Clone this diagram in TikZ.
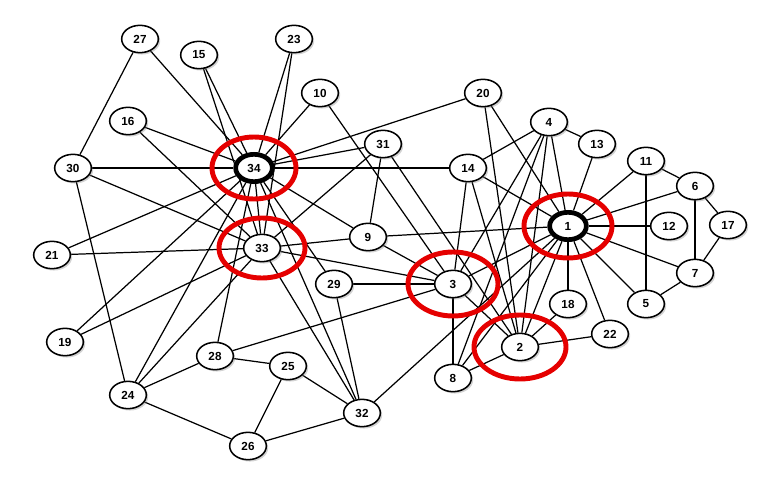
\documentclass[tikz,border=0pt]{standalone}
\usepackage{fontspec}
\setsansfont{Liberation Sans}
\usetikzlibrary{shapes.geometric,shadows,backgrounds}
\begin{document}
\begin{tikzpicture}[x=0.03cm, y=-0.03cm, font=\sffamily\bfseries\fontsize{10}{12}\selectfont]
        \tikzstyle{socio}=[ellipse, draw, line width=1.3pt, fill=white, minimum width=1.1cm, minimum height=0.82cm, inner sep=0pt,
                drop shadow={shadow xshift=1.6pt, shadow yshift=-1.6pt, opacity=0.35}]
        \tikzstyle{lider}=[socio, line width=4pt]
        \tikzstyle{lazo}=[line width=1.05pt]
        \tikzstyle{marca}=[draw=red!90!black, line width=4.2pt]

        \useasboundingbox (0,0) rectangle (781,477);

        % Miembros del club
        \node[lider] (n1) at (568,226) {1};   \node[socio] (n2) at (520,347) {2};   \node[socio] (n3) at (453,284) {3};
        \node[socio] (n4) at (549,122) {4};   \node[socio] (n5) at (646,304) {5};   \node[socio] (n6) at (695,186) {6};
        \node[socio] (n7) at (695,273) {7};   \node[socio] (n8) at (453,378) {8};   \node[socio] (n9) at (368,237) {9};
        \node[socio] (n10) at (320,93) {10};  \node[socio] (n11) at (646,161) {11}; \node[socio] (n12) at (669,226) {12};
        \node[socio] (n13) at (597,144) {13}; \node[socio] (n14) at (468,168) {14}; \node[socio] (n15) at (199,55) {15};
        \node[socio] (n16) at (128,121) {16}; \node[socio] (n17) at (728,225) {17}; \node[socio] (n18) at (568,304) {18};
        \node[socio] (n19) at (65,342) {19};  \node[socio] (n20) at (483,93) {20};  \node[socio] (n21) at (52,255) {21};
        \node[socio] (n22) at (610,334) {22}; \node[socio] (n23) at (294,39) {23};  \node[socio] (n24) at (128,395) {24};
        \node[socio] (n25) at (288,366) {25}; \node[socio] (n26) at (248,446) {26}; \node[socio] (n27) at (140,39) {27};
        \node[socio] (n28) at (215,356) {28}; \node[socio] (n29) at (334,284) {29}; \node[socio] (n30) at (73,168) {30};
        \node[socio] (n31) at (383,144) {31}; \node[socio] (n32) at (362,413) {32}; \node[socio] (n33) at (262,248) {33};
        \node[lider] (n34) at (254,168) {34};

        % Lazos de amistad
        \begin{scope}[on background layer]
        \foreach \a/\b in {1/2,1/3,1/4,1/5,1/6,1/7,1/8,1/9,1/11,1/12,1/13,1/14,1/18,1/20,1/22,1/32,
                2/3,2/4,2/8,2/14,2/18,2/20,2/22,2/31,3/4,3/8,3/9,3/10,3/14,3/28,3/29,3/33,
                4/8,4/13,4/14,5/7,5/11,6/7,6/11,6/17,7/17,9/31,9/33,9/34,10/34,14/34,
                15/33,15/34,16/33,16/34,19/33,19/34,20/34,21/33,21/34,23/33,23/34,
                24/26,24/28,24/30,24/33,24/34,25/26,25/28,25/32,26/32,27/30,27/34,
                28/34,29/32,29/34,30/33,30/34,31/33,31/34,32/33,32/34,33/34}
                \draw[lazo] (n\a) -- (n\b);
        \end{scope}

        % Marcas rojas
        \draw[marca] (n34) ellipse (42 and 31);
        \draw[marca] (n33) ellipse (43 and 30);
        \draw[marca] (n1) ellipse (44 and 32);
        \draw[marca] (n3) ellipse (45 and 32);
        \draw[marca] (n2) ellipse (46 and 32);
\end{tikzpicture}
\end{document}
